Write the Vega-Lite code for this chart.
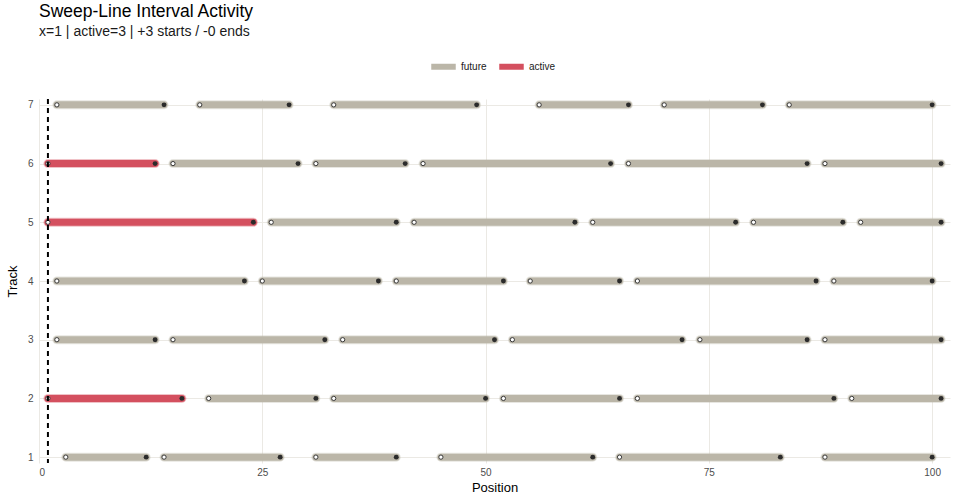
{
  "$schema": "https://vega.github.io/schema/vega-lite/v6.json",
  "width": 911,
  "height": 364,
  "autosize": {"type": "none"},
  "padding": {"left": 39, "top": 99, "right": 10, "bottom": 37},
  "background": "white",
  "config": {
    "font": "Liberation Sans",
    "view": {"stroke": null},
    "axis": {"domain": false, "ticks": false, "labelColor": "#4d4d4d", "labelFontSize": 10, "titleFontSize": 13, "titleFontWeight": "normal", "titleColor": "#000000", "gridColor": "#ebe9e4", "gridWidth": 1}
  },
  "title": {
    "text": "Sweep-Line Interval Activity",
    "subtitle": "x=1 | active=3 | +3 starts / -0 ends",
    "anchor": "start",
    "frame": "group",
    "fontSize": 17.5,
    "fontWeight": "normal",
    "subtitleFontSize": 14,
    "subtitleColor": "#1a1a1a",
    "subtitlePadding": 5,
    "offset": 12
  },
  "datasets": {
    "intervals": [
      {"track": 7, "start": 2, "end": 14, "status": "future"},
      {"track": 7, "start": 18, "end": 28, "status": "future"},
      {"track": 7, "start": 33, "end": 49, "status": "future"},
      {"track": 7, "start": 56, "end": 66, "status": "future"},
      {"track": 7, "start": 70, "end": 81, "status": "future"},
      {"track": 7, "start": 84, "end": 100, "status": "future"},
      {"track": 6, "start": 1, "end": 13, "status": "active"},
      {"track": 6, "start": 15, "end": 29, "status": "future"},
      {"track": 6, "start": 31, "end": 41, "status": "future"},
      {"track": 6, "start": 43, "end": 64, "status": "future"},
      {"track": 6, "start": 66, "end": 86, "status": "future"},
      {"track": 6, "start": 88, "end": 101, "status": "future"},
      {"track": 5, "start": 1, "end": 24, "status": "active"},
      {"track": 5, "start": 26, "end": 40, "status": "future"},
      {"track": 5, "start": 42, "end": 60, "status": "future"},
      {"track": 5, "start": 62, "end": 78, "status": "future"},
      {"track": 5, "start": 80, "end": 90, "status": "future"},
      {"track": 5, "start": 92, "end": 101, "status": "future"},
      {"track": 4, "start": 2, "end": 23, "status": "future"},
      {"track": 4, "start": 25, "end": 38, "status": "future"},
      {"track": 4, "start": 40, "end": 52, "status": "future"},
      {"track": 4, "start": 55, "end": 65, "status": "future"},
      {"track": 4, "start": 67, "end": 87, "status": "future"},
      {"track": 4, "start": 89, "end": 100, "status": "future"},
      {"track": 3, "start": 2, "end": 13, "status": "future"},
      {"track": 3, "start": 15, "end": 32, "status": "future"},
      {"track": 3, "start": 34, "end": 51, "status": "future"},
      {"track": 3, "start": 53, "end": 72, "status": "future"},
      {"track": 3, "start": 74, "end": 86, "status": "future"},
      {"track": 3, "start": 88, "end": 101, "status": "future"},
      {"track": 2, "start": 1, "end": 16, "status": "active"},
      {"track": 2, "start": 19, "end": 31, "status": "future"},
      {"track": 2, "start": 33, "end": 50, "status": "future"},
      {"track": 2, "start": 52, "end": 65, "status": "future"},
      {"track": 2, "start": 67, "end": 89, "status": "future"},
      {"track": 2, "start": 91, "end": 101, "status": "future"},
      {"track": 1, "start": 3, "end": 12, "status": "future"},
      {"track": 1, "start": 14, "end": 27, "status": "future"},
      {"track": 1, "start": 31, "end": 40, "status": "future"},
      {"track": 1, "start": 45, "end": 62, "status": "future"},
      {"track": 1, "start": 65, "end": 83, "status": "future"},
      {"track": 1, "start": 88, "end": 100, "status": "future"}
    ],
    "sweep": [{"x": 1}]
  },
  "layer": [
    {
      "data": {"name": "intervals"},
      "mark": {"type": "rule", "strokeWidth": 9, "strokeCap": "round", "opacity": 0.35},
      "encoding": {
        "x": {"field": "start", "type": "quantitative", "scale": {"domain": [0, 102], "nice": false, "zero": false}, "axis": {"values": [0, 25, 50, 75, 100], "title": "Position", "labelPadding": 4, "titlePadding": 4}},
        "x2": {"field": "end"},
        "y": {"field": "track", "type": "quantitative", "scale": {"domain": [0.9, 7.1], "nice": false, "zero": false}, "axis": {"values": [1, 2, 3, 4, 5, 6, 7], "format": "d", "title": "Track", "labelPadding": 6, "titlePadding": 8}},
        "color": {"field": "status", "type": "nominal", "scale": {"domain": ["future", "active"], "range": ["#bbb6a8", "#d4505f"]}, "legend": {"title": null, "orient": "none", "legendX": 389, "legendY": -48, "direction": "horizontal", "symbolType": "stroke", "symbolStrokeWidth": 6, "symbolSize": 600, "symbolOpacity": 1, "labelFontSize": 10, "labelColor": "#1a1a1a", "columnPadding": 0, "labelOffset": 2}}
      }
    },
    {
      "data": {"name": "intervals"},
      "mark": {"type": "rule", "strokeWidth": 7, "strokeCap": "round"},
      "encoding": {
        "x": {"field": "start", "type": "quantitative"},
        "x2": {"field": "end"},
        "y": {"field": "track", "type": "quantitative"},
        "color": {"field": "status", "type": "nominal"}
      }
    },
    {
      "data": {"name": "intervals"},
      "mark": {"type": "point", "filled": true, "fill": "white", "stroke": "#3a3a3a", "strokeWidth": 1, "size": 18, "opacity": 1},
      "encoding": {
        "x": {"field": "start", "type": "quantitative"},
        "y": {"field": "track", "type": "quantitative"}
      }
    },
    {
      "data": {"name": "intervals"},
      "mark": {"type": "point", "filled": true, "color": "#2b2b2b", "size": 24, "opacity": 1},
      "encoding": {
        "x": {"field": "end", "type": "quantitative"},
        "y": {"field": "track", "type": "quantitative"}
      }
    },
    {
      "data": {"name": "sweep"},
      "mark": {"type": "rule", "color": "#000000", "strokeWidth": 2, "strokeDash": [5, 4]},
      "encoding": {
        "x": {"field": "x", "type": "quantitative"}
      }
    }
  ]
}
